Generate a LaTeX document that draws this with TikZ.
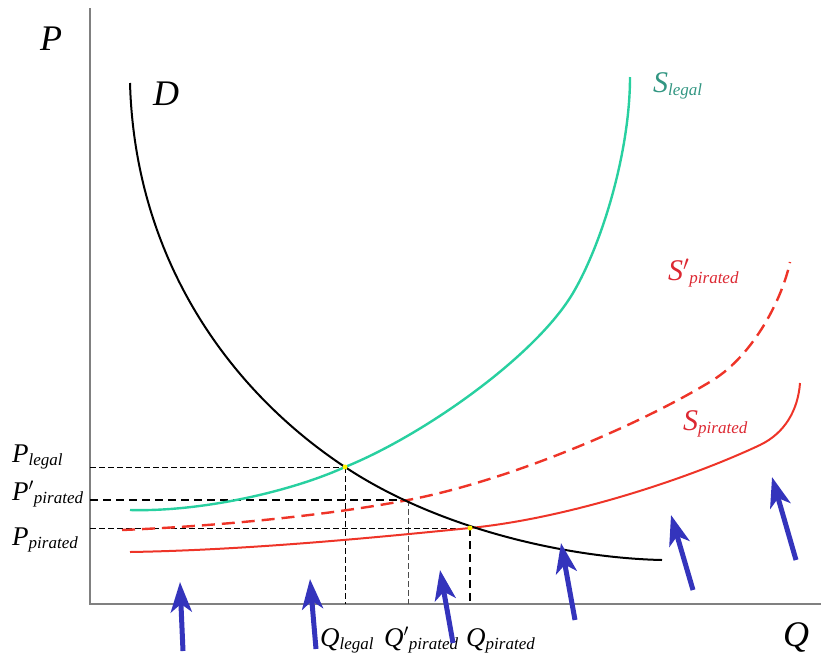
\documentclass[tikz,border=0pt]{standalone}
\usepackage{fontspec}
\setmainfont{Liberation Serif}
\usetikzlibrary{arrows.meta}
\definecolor{axisgray}{RGB}{128,128,128}
\definecolor{legalgreen}{RGB}{40,208,160}
\definecolor{legaltext}{RGB}{50,150,130}
\definecolor{pirred}{RGB}{238,52,40}
\definecolor{pirtext}{RGB}{220,40,50}
\definecolor{arrblue}{RGB}{52,52,188}
\newcommand{\biglab}[1]{{\fontsize{36}{36}\selectfont\itshape #1}}
\newcommand{\sublab}[3]{{\fontsize{#3}{#3}\selectfont\itshape #1}{\fontsize{17}{17}\selectfont\itshape\raisebox{-3pt}{#2}}}
\tikzset{
  axis/.style={draw=axisgray, line width=2.6pt},
  guide/.style={draw=black, line width=0.9pt, dash pattern=on 6pt off 3pt},
  guidethick/.style={draw=black, line width=2pt, dash pattern=on 8pt off 5pt},
  guidegray/.style={draw=black!70, line width=0.8pt, dash pattern=on 6pt off 3pt},
  shiftarrow/.style={draw=arrblue, line width=5pt, -{Stealth[length=30pt,width=21pt,inset=8pt]}},
  dot/.style={circle, fill=yellow, inner sep=0pt, minimum size=5pt},
  lbl/.style={inner sep=0pt, anchor=base west}
}
\begin{document}
\begin{tikzpicture}[x=1pt,y=-1pt]
\useasboundingbox (0,0) rectangle (821,659);
% axes
\coordinate (otop) at (90,8);
\coordinate (o) at (90,604);
\coordinate (xend) at (821,604);
\draw[axis] (otop) -- (o) -- (xend);
\node[lbl] (plab) at (40,50) {\biglab{P}};
\node[lbl] (qlab) at (783,646) {\biglab{Q}};
% equilibrium points
\coordinate (eL) at (345,467);
\coordinate (eP2) at (408,500);
\coordinate (eP) at (470,528);
\coordinate (yL) at (90,467);
\coordinate (yP2) at (90,500);
\coordinate (yP) at (90,528);
\coordinate (xL) at (345,604);
\coordinate (xP2) at (408,604);
\coordinate (xP) at (470,604);
% guides
\draw[guide] (yL) -- (eL);
\draw[guide] (eL) -- (xL);
\draw[guidethick] (yP2) -- (eP2);
\draw[guidegray] (eP2) -- (xP2);
\draw[guide] (yP) -- (eP);
\draw[guidethick] (eP) -- (xP);
% curves
\coordinate (gS) at (130,510);
\coordinate (gM) at (573,293);
\coordinate (gE) at (630,77);
\draw[legalgreen, line width=2.4pt] (gS) .. controls (200,512) and (290,492) .. (eL)
  .. controls (422,436) and (535,357) .. (gM)
  .. controls (603,242) and (630,150) .. (gE);
\coordinate (rdS) at (122,530);
\coordinate (rdM) at (713,380);
\coordinate (rdE) at (790,262);
\draw[pirred, line width=2.4pt, dash pattern=on 13pt off 7pt] (rdS) .. controls (220,526) and (330,515) .. (eP2)
  .. controls (508,481) and (640,425) .. (rdM)
  .. controls (753,355) and (782,300) .. (rdE);
\coordinate (rsS) at (130,552);
\coordinate (rsM) at (760,445);
\coordinate (rsE) at (800,383);
\draw[pirred, line width=2pt] (rsS) .. controls (250,550) and (380,537) .. (eP)
  .. controls (570,518) and (690,478) .. (rsM)
  .. controls (785,433) and (798,410) .. (rsE);
\coordinate (dS) at (130,83);
\coordinate (dE) at (662,560);
\draw[black, line width=2pt] (dS) .. controls (135,260) and (230,391) .. (eL)
  .. controls (440,530) and (570,558) .. (dE);
\node[dot] (dL) at (eL) {};
\node[dot] (dP) at (eP) {};
% curve labels
\node[lbl] (dlab) at (153,105) {\biglab{D}};
\node[lbl, text=legaltext] (slegal) at (653,92) {\sublab{S}{legal}{30}};
\node[lbl, text=pirtext] (spir2) at (668,280) {\sublab{S$'$}{pirated}{30}};
\node[lbl, text=pirtext] (spir) at (683,430) {\sublab{S}{pirated}{30}};
% axis labels
\node[lbl] (pL) at (12,462) {\sublab{P}{legal}{27}};
\node[lbl] (pP2) at (12,500) {\sublab{P$'$}{pirated}{27}};
\node[lbl] (pP) at (12,545) {\sublab{P}{pirated}{27}};
\node[lbl] (qL) at (320,646) {\sublab{Q}{legal}{27}};
\node[lbl] (qP2) at (384,646) {\sublab{Q$'$}{pirated}{27}};
\node[lbl] (qP) at (466,646) {\sublab{Q}{pirated}{27}};
% shift arrows
\coordinate (a1t) at (183,651); \coordinate (a1h) at (180,582);
\coordinate (a2t) at (316,649); \coordinate (a2h) at (310,579);
\coordinate (a3t) at (453,643); \coordinate (a3h) at (440,570);
\coordinate (a4t) at (575,620); \coordinate (a4h) at (561,543);
\coordinate (a5t) at (693,590); \coordinate (a5h) at (671,515);
\coordinate (a6t) at (796,560); \coordinate (a6h) at (772,477);
\draw[shiftarrow] (a1t) -- (a1h);
\draw[shiftarrow] (a2t) -- (a2h);
\draw[shiftarrow] (a3t) -- (a3h);
\draw[shiftarrow] (a4t) -- (a4h);
\draw[shiftarrow] (a5t) -- (a5h);
\draw[shiftarrow] (a6t) -- (a6h);
\end{tikzpicture}
\end{document}
